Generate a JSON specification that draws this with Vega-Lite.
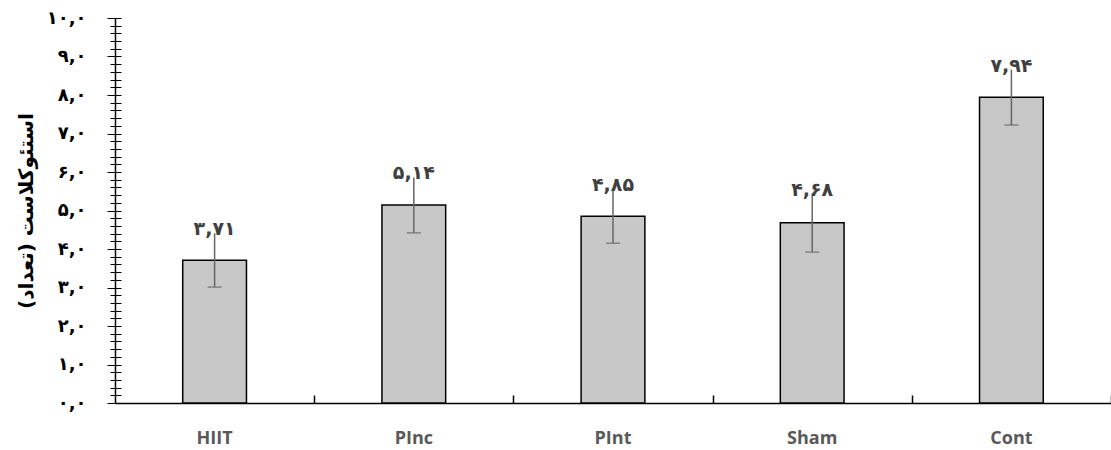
{
  "$schema": "https://vega.github.io/schema/vega-lite/v6.json",
  "width": 996,
  "height": 385,
  "autosize": {"type": "none"},
  "padding": {"left": 115, "top": 18, "right": 0, "bottom": 47},
  "background": "white",
  "config": {"view": {"stroke": null}},
  "data": {
    "values": [
      {"group": "HIIT", "mean": 3.71, "lo": 3.01, "hi": 4.41, "label": "۳,۷۱"},
      {"group": "PInc", "mean": 5.14, "lo": 4.42, "hi": 5.86, "label": "۵,۱۴"},
      {"group": "PInt", "mean": 4.85, "lo": 4.15, "hi": 5.55, "label": "۴,۸۵"},
      {"group": "Sham", "mean": 4.68, "lo": 3.92, "hi": 5.44, "label": "۴,۶۸"},
      {"group": "Cont", "mean": 7.94, "lo": 7.22, "hi": 8.66, "label": "۷,۹۴"}
    ]
  },
  "layer": [
    {
      "mark": {"type": "bar", "fill": "#c8c8c8", "stroke": "black", "strokeWidth": 1.5},
      "encoding": {
        "x": {
          "field": "group",
          "type": "nominal",
          "sort": null,
          "scale": {"paddingInner": 0.68, "paddingOuter": 0.34},
          "axis": {
            "orient": "bottom",
            "title": null,
            "labelAngle": 0,
            "ticks": false,
            "domainColor": "black",
            "domainWidth": 1.5,
            "labelFont": "Open Sans",
            "labelFontWeight": "bold",
            "labelFontSize": 18,
            "labelColor": "#595959",
            "labelPadding": 26
          }
        },
        "y": {
          "field": "mean",
          "type": "quantitative",
          "scale": {"domain": [0, 10], "nice": false},
          "axis": {
            "orient": "left",
            "values": [0, 1, 2, 3, 4, 5, 6, 7, 8, 9, 10],
            "ticks": false,
            "grid": false,
            "domainColor": "black",
            "domainWidth": 1.5,
            "labelFont": "DejaVu Sans",
            "labelFontWeight": "bold",
            "labelFontSize": 18,
            "labelColor": "black",
            "labelPadding": 29,
            "labelExpr": "replace(replace(replace(replace(replace(replace(replace(replace(replace(replace(replace(format(datum.value,'.1f'),'.',','),/0/g,'۰'),/1/g,'۱'),/2/g,'۲'),/3/g,'۳'),/4/g,'۴'),/5/g,'۵'),/6/g,'۶'),/7/g,'۷'),/8/g,'۸'),/9/g,'۹')",
            "title": "استئوکلاست (تعداد)",
            "titleFont": "DejaVu Sans",
            "titleFontWeight": "bold",
            "titleFontSize": 20,
            "titleColor": "black",
            "titlePadding": 10
          }
        }
      }
    },
    {
      "mark": {"type": "rule", "color": "#666666", "strokeWidth": 1.5},
      "encoding": {
        "x": {
          "field": "group",
          "type": "nominal",
          "sort": null,
          "axis": {
            "orient": "bottom",
            "title": null,
            "labels": false,
            "domain": false,
            "offset": -8,
            "tickOffset": 99.6,
            "tickSize": 8,
            "tickColor": "black",
            "tickWidth": 1.5
          }
        },
        "y": {
          "field": "hi",
          "type": "quantitative",
          "axis": {
            "orient": "left",
            "offset": -6,
            "labels": false,
            "domain": false,
            "grid": false,
            "title": null,
            "tickColor": "black",
            "tickWidth": 1,
            "tickSize": {"condition": {"test": "datum.value % 1 === 0", "value": 14}, "value": 11},
            "values": [0, 0.2, 0.4, 0.6, 0.8, 1, 1.2, 1.4, 1.6, 1.8, 2, 2.2, 2.4, 2.6, 2.8, 3, 3.2, 3.4, 3.6, 3.8, 4, 4.2, 4.4, 4.6, 4.8, 5, 5.2, 5.4, 5.6, 5.8, 6, 6.2, 6.4, 6.6, 6.8, 7, 7.2, 7.4, 7.6, 7.8, 8, 8.2, 8.4, 8.6, 8.8, 9, 9.2, 9.4, 9.6, 9.8, 10]
          }
        },
        "y2": {"field": "lo"}
      }
    },
    {
      "mark": {"type": "tick", "color": "#666666", "thickness": 1.5, "size": 14, "orient": "horizontal"},
      "encoding": {
        "x": {"field": "group", "type": "nominal", "sort": null, "axis": null},
        "y": {"field": "lo", "type": "quantitative", "axis": null}
      }
    },
    {
      "mark": {"type": "text", "font": "DejaVu Sans", "fontWeight": "bold", "fontSize": 19, "color": "#404040", "baseline": "alphabetic", "dy": 2},
      "encoding": {
        "x": {"field": "group", "type": "nominal", "sort": null, "axis": null},
        "y": {"field": "hi", "type": "quantitative", "axis": null},
        "text": {"field": "label"}
      }
    }
  ],
  "resolve": {"axis": {"y": "independent", "x": "independent"}}
}
